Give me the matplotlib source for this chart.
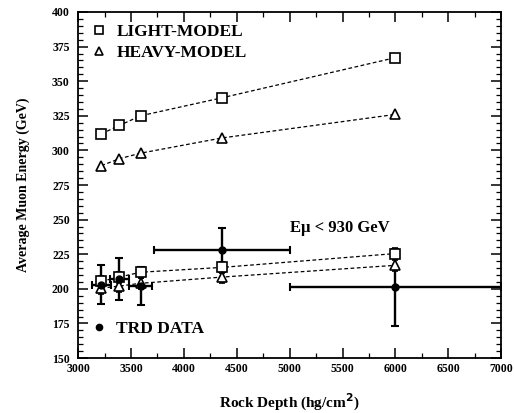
import numpy as np
import matplotlib.pyplot as plt
from matplotlib.lines import Line2D
from matplotlib.ticker import MultipleLocator

depth = [3220, 3390, 3590, 4360, 6000]

# full simulation
light_all = [312, 318, 325, 338, 367]
heavy_all = [289, 294, 298, 309, 326]

# simulation with E_mu < 930 GeV
light_cut = [205.5, 208.5, 212, 215.5, 225.5]
heavy_cut = [200.5, 202, 204, 208.5, 217]
model_err = [4, 4, 4, 4, 4]

# TRD measurements
trd = [203, 207, 202, 228, 201]
trd_yerr = [14, 15, 14, 16, 28]
trd_xerr = [90, 90, 110, 640, 1000]

plt.rcParams['font.family'] = ['Liberation Serif', 'DejaVu Serif']
plt.rcParams['font.weight'] = 'bold'

fig = plt.figure(figsize=(5.14, 4.13), dpi=100)
ax = fig.add_axes([0.152, 0.133, 0.823, 0.838])

dash = dict(color='black', ls=(0, (3, 2)), lw=0.9)
ax.plot(depth, light_all, marker='s', ms=7, mfc='white', mec='black', mew=1.2, **dash)
ax.plot(depth, heavy_all, marker='^', ms=7, mfc='white', mec='black', mew=1.2, **dash)

ax.errorbar(depth, light_cut, yerr=model_err, marker='s', ms=7, mfc='white', mec='black',
            mew=1.2, ecolor='black', elinewidth=1.0, capsize=2, **dash)
ax.errorbar(depth, heavy_cut, yerr=model_err, marker='^', ms=7, mfc='white', mec='black',
            mew=1.2, ecolor='black', elinewidth=1.0, capsize=2, **dash)

ax.errorbar(depth, trd, yerr=trd_yerr, xerr=trd_xerr, fmt='o', ms=5, color='black',
            elinewidth=1.7, capsize=3, capthick=1.5)

ax.set_xlim(3000, 7000)
ax.set_ylim(150, 400)
ax.xaxis.set_major_locator(MultipleLocator(500))
ax.xaxis.set_minor_locator(MultipleLocator(250))
ax.yaxis.set_major_locator(MultipleLocator(25))
ax.yaxis.set_minor_locator(MultipleLocator(5))
ax.tick_params(which='both', direction='in', top=True, right=True, labelsize=8.5)
ax.tick_params(which='major', length=7, width=1.1)
ax.tick_params(which='minor', length=3.5, width=0.9)
ax.tick_params(axis='y', pad=6)
for lab in ax.get_xticklabels() + ax.get_yticklabels():
    lab.set_fontweight('bold')
for s in ax.spines.values():
    s.set_linewidth(1.3)

ax.set_xlabel('Rock Depth (hg/cm$^\\mathbf{2}$)', fontsize=11, weight='bold', labelpad=12)
ax.set_ylabel('Average Muon Energy (GeV)', fontsize=10, weight='bold', labelpad=16)

ax.text(0.5, 0.365, 'E\u03bc < 930 GeV', transform=ax.transAxes, fontsize=12, weight='bold')

h_models = [Line2D([], [], ls='none', marker='s', ms=5.5, mfc='white', mec='black', mew=1.2),
            Line2D([], [], ls='none', marker='^', ms=5.5, mfc='white', mec='black', mew=1.2)]
leg1 = ax.legend(h_models, ['LIGHT-MODEL', 'HEAVY-MODEL'], loc='upper left', frameon=False,
                 prop={'weight': 'bold', 'size': 12.5}, handlelength=1.0, handletextpad=0.5,
                 labelspacing=0.25, borderaxespad=0.3, bbox_to_anchor=(0.0, 1.0))
ax.add_artist(leg1)
h_trd = [Line2D([], [], ls='none', marker='o', ms=4.5, color='black')]
ax.legend(h_trd, ['TRD DATA'], loc='lower left', frameon=False,
          prop={'weight': 'bold', 'size': 12.5}, handlelength=1.0, handletextpad=0.5,
          borderaxespad=0.3, bbox_to_anchor=(0.0, 0.025))

fig.savefig('out.png', dpi=100)
